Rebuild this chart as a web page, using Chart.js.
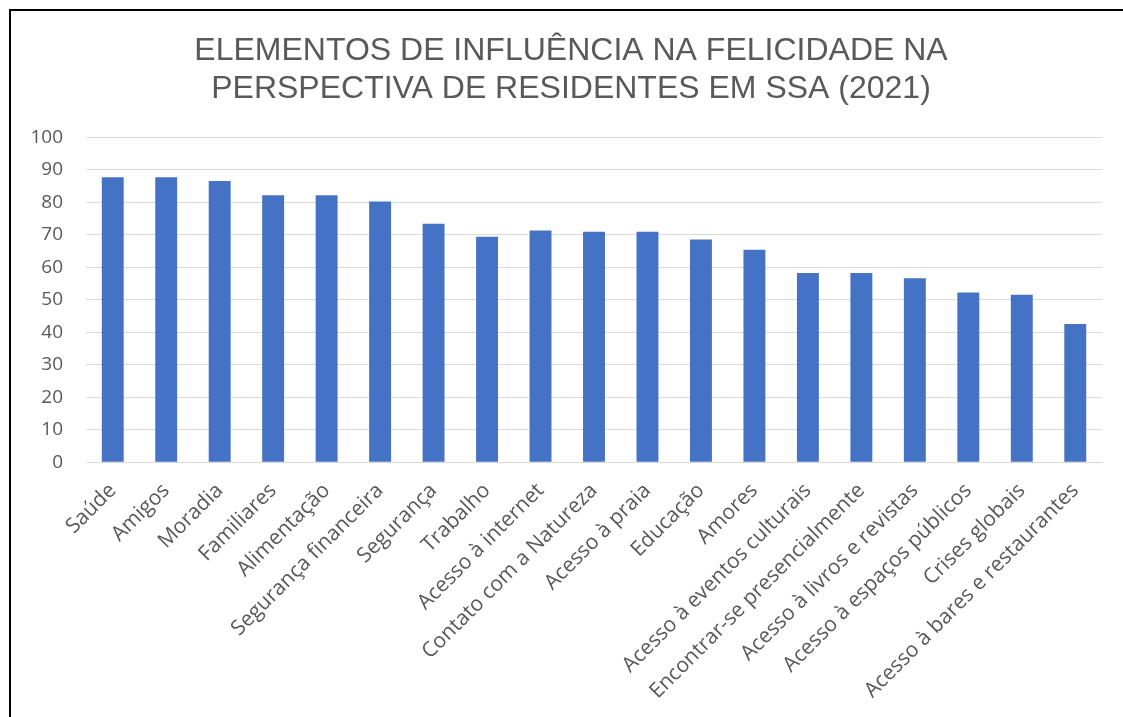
<!DOCTYPE html>
<html lang="pt">
<head>
    <meta charset="UTF-8">
    <title>Elementos de influência na felicidade</title>
    <script src="https://cdn.jsdelivr.net/npm/chart.js@4/dist/chart.umd.min.js"></script>
    <style>
        html, body { margin: 0; padding: 0; background: #fff; overflow: hidden; }
        .moldura {
            position: absolute; left: 9px; top: 9px;
            width: 1130px; height: 720px;
            border: 2px solid #000; box-sizing: border-box;
        }
    </style>
</head>
<body>
    <div class="moldura">
        <canvas id="grafico"></canvas>
    </div>

    <script>
        // categorias e valores
        const categorias = [
            'Saúde', 'Amigos', 'Moradia', 'Familiares', 'Alimentação',
            'Segurança financeira', 'Segurança', 'Trabalho', 'Acesso à internet',
            'Contato com a Natureza', 'Acesso à praia', 'Educação', 'Amores',
            'Acesso à eventos culturais', 'Encontrar-se presencialmente',
            'Acesso à livros e revistas', 'Acesso à espaços públicos',
            'Crises globais', 'Acesso à bares e restaurantes'
        ];
        const valores = [
            87.7, 87.7, 86.5, 82.1, 82.1,
            80.2, 73.4, 69.4, 71.3,
            70.9, 70.9, 68.5, 65.4,
            58.2, 58.2,
            56.6, 52.2,
            51.5, 42.5
        ];
        const tituloLinhas = [
            'ELEMENTOS DE INFLUÊNCIA NA FELICIDADE NA',
            'PERSPECTIVA DE RESIDENTES EM SSA (2021)'
        ];
        const yMin = 0, yMax = 100, yPasso = 10;

        const cinza = '#595959';

        const ctx = document.getElementById('grafico').getContext('2d');
        new Chart(ctx, {
            type: 'bar',
            data: {
                labels: categorias,
                datasets: [{
                    data: valores,
                    backgroundColor: '#4472C4',
                    barPercentage: 0.41,
                    categoryPercentage: 1
                }]
            },
            options: {
                responsive: true,
                maintainAspectRatio: false,
                animation: false,
                layout: { padding: { left: 17, right: 23, top: 21, bottom: 7 } },
                plugins: {
                    legend: { display: false },
                    tooltip: { enabled: false },
                    title: {
                        display: true,
                        text: tituloLinhas,
                        color: cinza,
                        font: { family: 'Liberation Sans', size: 32, weight: 'normal', lineHeight: 1.19 },
                        padding: { top: 0, bottom: 29 }
                    }
                },
                scales: {
                    x: {
                        grid: { display: false, drawTicks: false },
                        border: { color: '#d9d9d9' },
                        ticks: {
                            color: cinza,
                            font: { family: 'Open Sans', size: 21 },
                            maxRotation: 45, minRotation: 45,
                            autoSkip: false,
                            padding: 16
                        },
                        // os rótulos inclinados podem sair à esquerda da área do gráfico
                        afterFit: (escala) => {
                            escala.paddingLeft = 0;
                            escala.paddingRight = 35;
                        }
                    },
                    y: {
                        min: yMin, max: yMax,
                        grid: { color: '#d9d9d9', drawTicks: false },
                        border: { display: false },
                        ticks: {
                            stepSize: yPasso,
                            color: cinza,
                            font: { family: 'Open Sans', size: 19 },
                            padding: 23
                        },
                        afterFit: (escala) => { escala.width = 58; }
                    }
                }
            }
        });
    </script>
</body>
</html>
